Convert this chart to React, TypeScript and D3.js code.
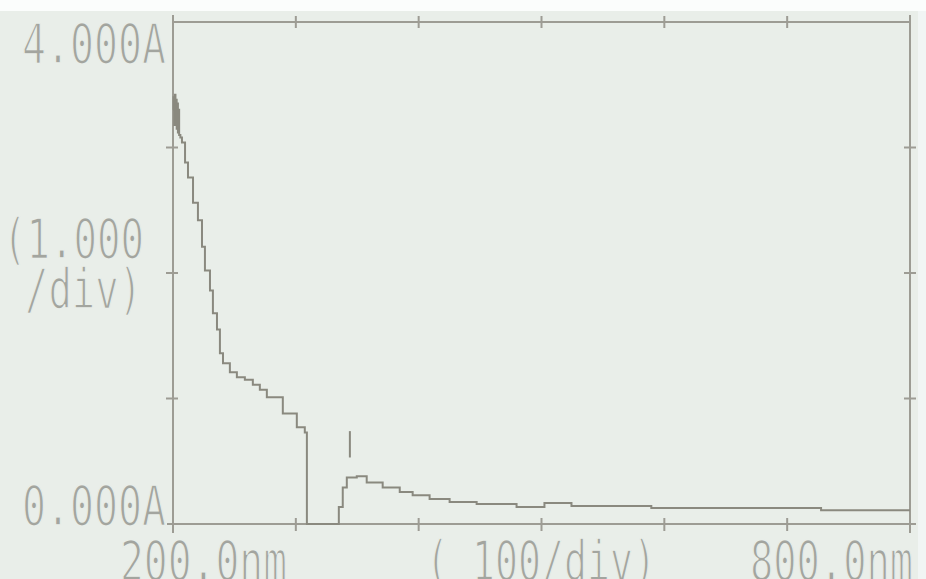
import React from 'react';
import * as d3 from 'd3';

// absorbance scan
const wavelength = [
  200.0, 200.5, 201.0, 201.5, 202.0, 202.5, 203.0, 203.5, 204.0, 204.5, 205.0, 206.0,
  207.3, 209.8, 212.2, 216.3, 220.3, 223.6, 226.0, 230.1, 232.5, 235.8, 238.2, 240.7,
  246.3, 252.0, 258.5, 265.0, 270.7, 276.4, 289.4, 300.8, 307.3, 309.0,
  335.0, 335.0, 338.2, 341.5, 349.6, 357.7, 370.7, 384.6, 395.1, 408.9, 425.2, 447.2,
  479.7, 502.4, 524.4, 589.4, 727.6, 800.0,
];
const absorbance = [
  3.30, 3.40, 3.18, 3.42, 3.20, 3.38, 3.15, 3.35, 3.12, 3.30, 3.10, 3.08,
  3.04, 2.88, 2.76, 2.56, 2.42, 2.21, 2.02, 1.86, 1.68, 1.55, 1.36, 1.28,
  1.21, 1.17, 1.15, 1.11, 1.07, 1.01, 0.88, 0.77, 0.73, 0.0,
  0.0, 0.135, 0.29, 0.37, 0.38, 0.33, 0.29, 0.255, 0.23, 0.20, 0.175, 0.16,
  0.135, 0.167, 0.143, 0.127, 0.11, 0.11,
];

const xTicks = [200, 300, 400, 500, 600, 700, 800];
const yTicks = [0, 1, 2, 3, 4];

// peak marker
const markerNm = 344;
const markerRange = [0.53, 0.74];

const data = wavelength.map((w, i) => ({ w, a: absorbance[i] }));

const left = 173, right = 910, top = 22, bottom = 524;
const bg = '#e9eee9';
const frame = '#9d9c94';
const ink = '#8a897f';
const textCol = '#a3a59f';

export default function App() {
  const x = d3.scaleLinear().domain([200, 800]).range([left, right]);
  const y = d3.scaleLinear().domain([0, 4]).range([bottom, top]);

  const line = d3.line<{ w: number; a: number }>()
    .x(d => x(d.w))
    .y(d => y(d.a))
    .curve(d3.curveStepAfter);

  // thin LCD-ish glyphs: fill, then eat into it with a background stroke
  const label = (s: string, tx: number, ty: number, len: number) => (
    <text
      x={tx}
      y={ty}
      textLength={len}
      lengthAdjust="spacingAndGlyphs"
      fontFamily="DejaVu Sans Mono"
      fontSize={55}
      fill={textCol}
      stroke={bg}
      strokeWidth={1.6}
    >{s}</text>
  );

  return (
    <svg width={926} height={579} style={{ position: 'absolute', left: 0, top: 0 }}>
      <rect width={926} height={579} fill={bg} />
      <rect width={926} height={11} fill="#fbfdfc" />
      <rect x={918} y={11} width={8} height={568} fill="#f1f5f4" />

      {/* frame */}
      <g stroke={frame} strokeWidth={2} fill="none">
        <line x1={left} x2={left} y1={top - 7} y2={bottom + 9} />
        <line x1={left - 6} x2={right + 6} y1={bottom} y2={bottom} />
        <line x1={left} x2={right} y1={top} y2={top} />
        <line x1={right} x2={right} y1={top - 7} y2={bottom + 9} />
        {xTicks.slice(1, -1).map(t => (
          <g key={'x' + t}>
            <line x1={x(t)} x2={x(t)} y1={bottom - 6} y2={bottom + 7} />
            <line x1={x(t)} x2={x(t)} y1={top - 6} y2={top + 6} />
          </g>
        ))}
        {yTicks.slice(1, -1).map(t => (
          <g key={'y' + t}>
            <line x1={left - 7} x2={left + 5} y1={y(t)} y2={y(t)} />
            <line x1={right - 6} x2={right + 6} y1={y(t)} y2={y(t)} />
          </g>
        ))}
      </g>

      {/* spectrum */}
      <path d={line(data) || ''} fill="none" stroke={ink} strokeWidth={2} />
      <line
        x1={x(markerNm)} x2={x(markerNm)}
        y1={y(markerRange[0])} y2={y(markerRange[1])}
        stroke={ink} strokeWidth={2}
      />

      {/* screen labels */}
      {label('4.000A', 22, 63, 144)}
      {label('(1.000', 3, 258, 141)}
      {label('/div)', 25, 308, 117)}
      {label('0.000A', 22, 525, 144)}
      {label('200.0nm', 120, 580, 167)}
      {label('( 100/div)', 426, 580, 230)}
      {label('800.0nm', 750, 580, 163)}
    </svg>
  );
}
